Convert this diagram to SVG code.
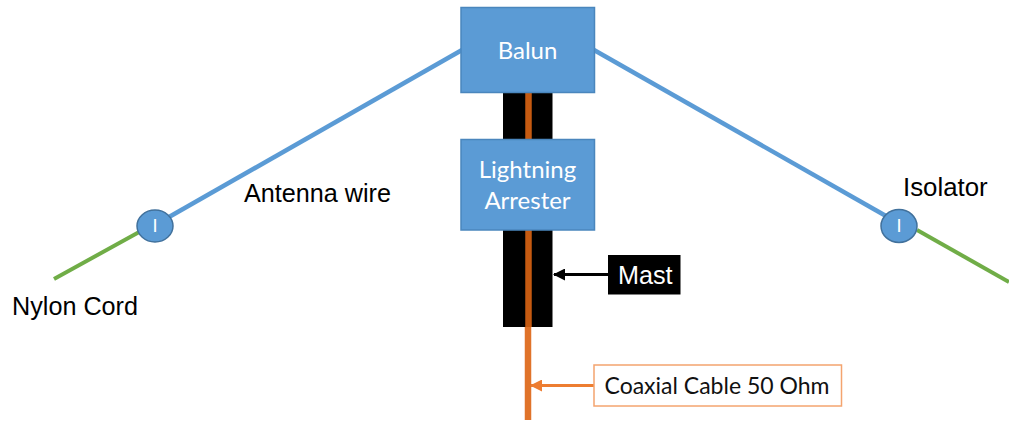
<svg xmlns="http://www.w3.org/2000/svg" width="1009" height="421" viewBox="0 0 1009 421">
<style>
.box{fill:#5b9bd5;stroke:#4a86bd;stroke-width:1.5}
.iso{fill:#5b9bd5;stroke:#41719c;stroke-width:1.5}
.w{fill:#fff;font-family:"Lato","Noto Sans",sans-serif;font-size:24px;text-anchor:middle}
.a{fill:#000;font-family:"Liberation Sans",Arial,sans-serif;font-size:25.200px}
.blue{stroke:#5b9bd5;stroke-width:4.500;fill:none}
.green{stroke:#70ad47;stroke-width:4;fill:none}
</style>
<defs>
<marker id="ab" markerUnits="userSpaceOnUse" markerWidth="12" markerHeight="12" refX="11" refY="6" orient="auto"><path d="M0 0L12 6L0 12Z" fill="#000"/></marker>
<marker id="ao" markerUnits="userSpaceOnUse" markerWidth="12" markerHeight="12" refX="11" refY="6" orient="auto"><path d="M0 0L12 6L0 12Z" fill="#ed7d31"/></marker>
</defs>
<g id="mast"><rect x="503" y="7" width="49.500" height="320" fill="#000"/></g>
<g id="connectors">
<line class="blue" x1="462" y1="50" x2="169" y2="217"/>
<line class="blue" x1="594" y1="50" x2="886" y2="216"/>
<line class="green" x1="54" y1="279" x2="141" y2="231"/>
<line class="green" x1="917" y1="230" x2="1009" y2="282"/>
<line x1="528.500" y1="92" x2="528.500" y2="327" stroke="#c55a11" stroke-width="6.500"/>
<line x1="528" y1="327" x2="528" y2="420" stroke="#e0732a" stroke-width="6.500"/>
<line x1="608" y1="274.500" x2="554" y2="274.500" stroke="#000" stroke-width="3" marker-end="url(#ab)"/>
<line x1="594" y1="385.500" x2="531" y2="385.500" stroke="#ed7d31" stroke-width="3" marker-end="url(#ao)"/>
</g>
<g id="balun"><rect class="box" x="461" y="7.500" width="133.500" height="85"/><text class="w" x="527.500" y="59">Balun</text></g>
<g id="arrester"><rect class="box" x="461" y="139.500" width="133.500" height="90.500"/><text class="w" x="527.500" y="178">Lightning</text><text class="w" x="527.500" y="209">Arrester</text></g>
<g id="isolator-left"><ellipse class="iso" cx="155" cy="226" rx="18" ry="16"/><text class="w" x="155" y="232" style="font-size:18px">I</text></g>
<g id="isolator-right"><ellipse class="iso" cx="899" cy="226" rx="18" ry="16.500"/><text class="w" x="899" y="232" style="font-size:18px">I</text></g>
<g id="mast-label"><rect x="608" y="255" width="72.500" height="39.500" fill="#000"/><text x="618" y="284" fill="#fff" font-family="Liberation Sans, Arial, sans-serif" font-size="25.200">Mast</text></g>
<g id="coax-label"><rect x="594" y="365" width="247.500" height="41" fill="#fff" stroke="#f4a46f" stroke-width="1.500"/><text x="604.500" y="393.500" fill="#111" font-family="Lato, Noto Sans, sans-serif" font-size="23">Coaxial Cable 50 Ohm</text></g>
<g id="labels">
<text class="a" x="244" y="202">Antenna wire</text>
<text class="a" x="12" y="315">Nylon Cord</text>
<text class="a" x="903" y="196" style="font-size:25.800px">Isolator</text>
</g>
</svg>
